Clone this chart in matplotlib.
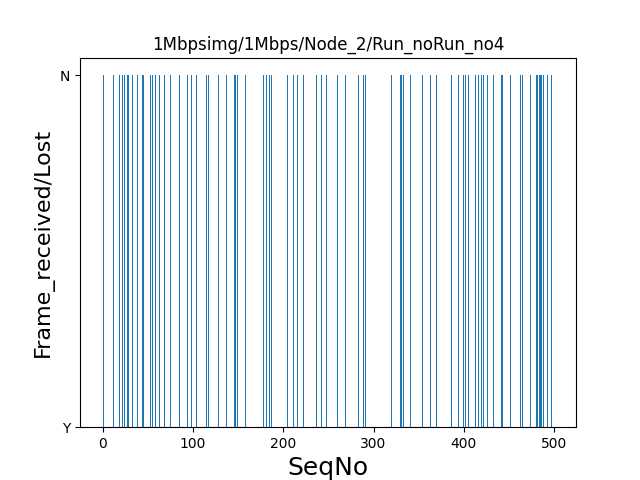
import matplotlib
matplotlib.use("Agg")
from matplotlib import pyplot as plt

#%%
n_frames = 500
lost_seq = [1, 10, 12, 18, 22, 24, 27, 28, 31, 33, 38, 41, 44, 45, 49, 53, 55, 58, 60, 63, 68, 71, 75,
            85, 92, 94, 98, 104, 115, 117, 123, 128, 137, 146, 147, 149, 158, 162,
            178, 181, 185, 187, 194, 205, 211, 216, 222, 237, 242, 248, 255,
            260, 269, 283, 289, 291, 296, 317, 320, 326, 330, 331, 333, 335, 341,
            354, 363, 370, 386, 394, 400, 402, 405, 413, 416, 420, 422, 426, 433,
            439, 442, 443, 452, 463, 465, 468, 470, 474, 481, 482, 484, 485, 486, 488, 489, 493, 497]

seq_no = list(range(n_frames))
status = ["N" if s in lost_seq else "Y" for s in seq_no]

plt.figure(figsize=(6.4, 4.8), dpi=100)
plt.bar(seq_no, status)
plt.title("1Mbpsimg/1Mbps/Node_2/Run_noRun_no4")
plt.xlabel("SeqNo", fontsize=18)
plt.ylabel("Frame_received/Lost", fontsize=16)
plt.savefig("out.png")
